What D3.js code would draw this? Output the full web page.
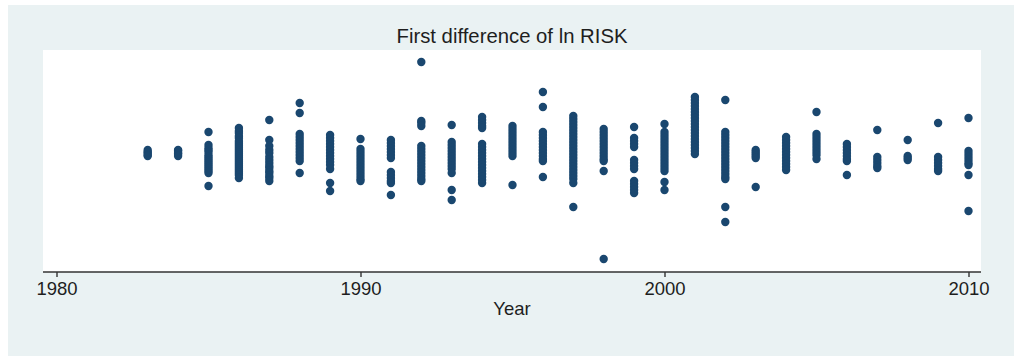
<!DOCTYPE html>
<html>
<head>
<meta charset="utf-8">
<script src="https://cdn.jsdelivr.net/npm/d3@7"></script>
<style>
  html, body { margin: 0; padding: 0; background: #ffffff; }
  svg { display: block; }
  text { font-family: Arial, "Liberation Sans", sans-serif; fill: #1e1e1e; }
</style>
</head>
<body>
<svg id="chart" width="1014" height="356"></svg>
<script>
// Firm-level first differences of ln RISK, grouped by year
const years = [1983, 1984, 1985, 1986, 1987, 1988, 1989, 1990, 1991, 1992, 1993, 1994, 1995, 1996,
               1997, 1998, 1999, 2000, 2001, 2002, 2003, 2004, 2005, 2006, 2007, 2008, 2009, 2010];

const dlnRisk = [
  [0.00, -0.02, -0.03, -0.05, -0.06],
  [0.00, -0.01, -0.03, -0.04, -0.06],
  [0.18, 0.05, 0.02, 0.00, -0.02, -0.05, -0.07, -0.09, -0.11, -0.13, -0.15, -0.17, -0.19, -0.21, -0.23, -0.36],
  [0.22, 0.19, 0.17, 0.14, 0.12, 0.09, 0.07, 0.05, 0.03, 0.01, -0.01, -0.03, -0.05, -0.07, -0.09, -0.11,
   -0.13, -0.15, -0.17, -0.19, -0.21, -0.23, -0.25, -0.28],
  [0.30, 0.10, 0.04, 0.00, -0.03, -0.07, -0.10, -0.13, -0.16, -0.18, -0.21, -0.23, -0.26, -0.28, -0.31],
  [0.47, 0.37, 0.16, 0.13, 0.10, 0.07, 0.04, 0.01, -0.02, -0.05, -0.08, -0.11, -0.23],
  [0.15, 0.12, 0.09, 0.06, 0.03, 0.00, -0.03, -0.06, -0.09, -0.12, -0.15, -0.19, -0.33, -0.41],
  [0.11, 0.01, -0.02, -0.05, -0.08, -0.11, -0.14, -0.17, -0.20, -0.23, -0.26, -0.29, -0.31],
  [0.10, 0.07, 0.04, 0.01, -0.02, -0.05, -0.08, -0.22, -0.25, -0.28, -0.31, -0.33, -0.45],
  [0.88, 0.29, 0.27, 0.24, 0.04, 0.01, -0.02, -0.05, -0.08, -0.11, -0.14, -0.17, -0.20, -0.23, -0.26, -0.29, -0.31],
  [0.25, 0.08, 0.05, 0.02, -0.01, -0.04, -0.07, -0.10, -0.13, -0.16, -0.19, -0.23, -0.40, -0.50],
  [0.33, 0.30, 0.27, 0.24, 0.22, 0.06, 0.03, 0.00, -0.03, -0.06, -0.09, -0.12, -0.15, -0.18, -0.21, -0.24,
   -0.27, -0.30, -0.33],
  [0.24, 0.21, 0.18, 0.15, 0.12, 0.09, 0.06, 0.03, 0.00, -0.03, -0.06, -0.35],
  [0.58, 0.43, 0.18, 0.15, 0.12, 0.09, 0.06, 0.03, 0.00, -0.03, -0.06, -0.09, -0.11, -0.27],
  [0.34, 0.31, 0.28, 0.25, 0.22, 0.19, 0.16, 0.13, 0.10, 0.07, 0.04, 0.01, -0.02, -0.05, -0.08, -0.11,
   -0.14, -0.17, -0.20, -0.23, -0.26, -0.29, -0.33, -0.57],
  [0.21, 0.18, 0.15, 0.12, 0.09, 0.06, 0.03, 0.00, -0.03, -0.06, -0.09, -0.11, -0.21, -1.09],
  [0.23, 0.12, 0.09, 0.06, 0.03, -0.10, -0.13, -0.16, -0.19, -0.31, -0.34, -0.37, -0.40, -0.43],
  [0.26, 0.18, 0.15, 0.12, 0.09, 0.06, 0.03, 0.00, -0.03, -0.06, -0.09, -0.12, -0.15, -0.18, -0.21, -0.32, -0.40],
  [0.53, 0.50, 0.47, 0.44, 0.41, 0.38, 0.35, 0.32, 0.29, 0.26, 0.23, 0.20, 0.17, 0.14, 0.11, 0.08,
   0.05, 0.02, -0.01, -0.04],
  [0.50, 0.18, 0.15, 0.12, 0.09, 0.06, 0.03, 0.00, -0.03, -0.06, -0.09, -0.12, -0.15, -0.18, -0.21, -0.24,
   -0.27, -0.29, -0.57, -0.72],
  [0.00, -0.02, -0.04, -0.06, -0.08, -0.37],
  [0.13, 0.10, 0.07, 0.04, 0.01, -0.02, -0.05, -0.08, -0.11, -0.14, -0.17, -0.20],
  [0.38, 0.16, 0.13, 0.10, 0.07, 0.04, 0.01, -0.02, -0.05, -0.09],
  [0.06, 0.03, 0.00, -0.03, -0.06, -0.09, -0.11, -0.25],
  [0.20, -0.07, -0.10, -0.13, -0.16, -0.18],
  [0.10, -0.06, -0.08, -0.10],
  [0.27, -0.07, -0.10, -0.13, -0.16, -0.19, -0.21],
  [0.32, -0.01, -0.04, -0.07, -0.10, -0.13, -0.15, -0.25, -0.61]
];

const xTicks = [1980, 1990, 2000, 2010];
const titleText = "First difference of ln RISK";
const xLabel = "Year";

const W = 1014, H = 356;
const plot = { left: 43, right: 981, top: 50, bottom: 272 };

const svg = d3.select("#chart");

// graph region and plot region
svg.append("rect")
  .attr("x", 8).attr("y", 5)
  .attr("width", W - 8).attr("height", H - 5)
  .attr("fill", "#eaf2f3");
svg.append("rect")
  .attr("x", plot.left).attr("y", plot.top)
  .attr("width", plot.right - plot.left).attr("height", plot.bottom - plot.top)
  .attr("fill", "#ffffff");

const x = d3.scaleLinear().domain([1980, 2010]).range([56.5, 968.5]);
const y = d3.scaleLinear().domain([-1.22, 1.0]).range([plot.bottom, plot.top]);

const points = years.flatMap((yr, i) => dlnRisk[i].map(v => ({ year: yr, v })));

svg.append("g")
  .selectAll("circle")
  .data(points)
  .join("circle")
  .attr("cx", d => x(d.year))
  .attr("cy", d => y(d.v))
  .attr("r", 4.2)
  .attr("fill", "#1a476f");

// x axis
const axis = svg.append("g")
  .attr("transform", `translate(0,${plot.bottom})`)
  .call(d3.axisBottom(x).tickValues(xTicks).tickFormat(d3.format("d")).tickSize(5).tickPadding(5).tickSizeOuter(0));
axis.select(".domain").remove();
axis.append("line")
  .attr("x1", plot.left).attr("x2", plot.right)
  .attr("y1", 0).attr("y2", 0)
  .attr("stroke", "#333").attr("stroke-width", 1.4);
axis.selectAll(".tick line").attr("stroke", "#333").attr("stroke-width", 1.4);
axis.selectAll(".tick text")
  .attr("font-size", 18.5)
  .attr("fill", "#1e1e1e")
  .style("font-family", "Arial, 'Liberation Sans', sans-serif");

svg.append("text")
  .attr("x", (plot.left + plot.right) / 2)
  .attr("y", 315)
  .attr("text-anchor", "middle")
  .attr("font-size", 18.5)
  .text(xLabel);

svg.append("text")
  .attr("x", (plot.left + plot.right) / 2)
  .attr("y", 43)
  .attr("text-anchor", "middle")
  .attr("font-size", 21)
  .attr("textLength", 231)
  .attr("lengthAdjust", "spacingAndGlyphs")
  .text(titleText);
</script>
</body>
</html>
